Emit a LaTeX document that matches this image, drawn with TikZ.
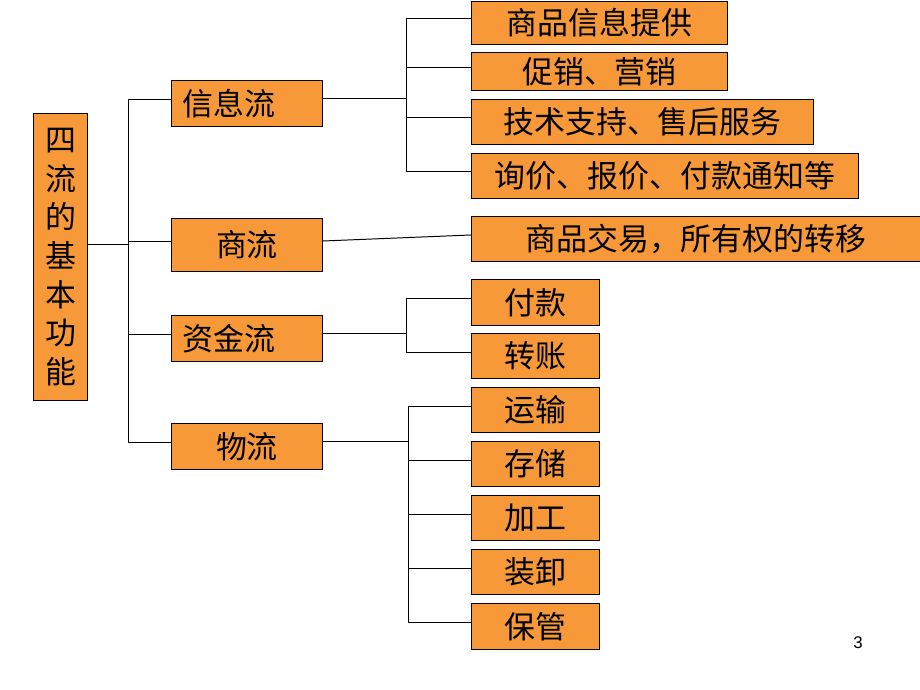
\documentclass[tikz,border=0pt]{standalone}
\usepackage{fontspec}
\setmainfont{Liberation Sans}
\newfontfamily\cjk{Noto Sans CJK SC}
\usetikzlibrary{positioning}
\definecolor{boxorange}{RGB}{247,153,56}
\newcommand{\px}{0.025cm}

\begin{document}
\begin{tikzpicture}[x=\px, y=-\px, line width=0.7pt,
    box/.style={draw, fill=boxorange, anchor=north west, inner sep=0pt, font=\cjk\fontsize{22}{26}\selectfont},
    lbox/.style={box, align=left, inner xsep=11*\px, text width=129*\px}]
    \useasboundingbox (0,0) rectangle (920,690);

    % Khối gốc (chữ dọc)
    \node[box, minimum width=54*\px, minimum height=287*\px, align=center, font=\cjk\fontsize{22}{27.5}\selectfont]
        (root) at (33,113) {四\\流\\的\\基\\本\\功\\能};

    % Bốn dòng
    \node[lbox, minimum height=46*\px] (xinxi) at (171,80) {信息流};
    \node[box, minimum width=151*\px, minimum height=53*\px] (shang) at (171,218) {商流};
    \node[lbox, minimum height=46*\px] (zijin) at (171,315) {资金流};
    \node[box, minimum width=151*\px, minimum height=46*\px] (wu) at (171,423) {物流};

    % Chức năng của 信息流
    \node[box, minimum width=256*\px, minimum height=43*\px] (xx1) at (471,1) {商品信息提供};
    \node[box, minimum width=256*\px, minimum height=38*\px] (xx2) at (471,52) {促销、营销};
    \node[box, minimum width=342*\px, minimum height=45*\px] (xx3) at (471,99) {技术支持、售后服务};
    \node[box, minimum width=387*\px, minimum height=45*\px] (xx4) at (471,153) {询价、报价、付款通知等};

    % 商流
    \node[box, minimum width=449*\px, minimum height=45*\px] (jiaoyi) at (471,216) {商品交易，所有权的转移};

    % 资金流
    \node[box, minimum width=128*\px, minimum height=46*\px] (zj1) at (471,279) {付款};
    \node[box, minimum width=128*\px, minimum height=45*\px] (zj2) at (471,333) {转账};

    % 物流
    \node[box, minimum width=128*\px, minimum height=45*\px] (wl1) at (471,387) {运输};
    \node[box, minimum width=128*\px, minimum height=45*\px] (wl2) at (471,441) {存储};
    \node[box, minimum width=128*\px, minimum height=45*\px] (wl3) at (471,495) {加工};
    \node[box, minimum width=128*\px, minimum height=45*\px] (wl4) at (471,549) {装卸};
    \node[box, minimum width=128*\px, minimum height=46*\px] (wl5) at (471,603) {保管};

    % Số trang
    \node[font=\fontsize{12}{14}\selectfont] (page) at (858,643) {3};

    % Các điểm rẽ nhánh
    \coordinate (a0) at (128,244);
    \coordinate (b1) at (406,98);
    \coordinate (b3) at (406,333);
    \coordinate (b4) at (408,441);

    % Các đường nối
    \draw (root.east |- a0) -- (a0);
    \foreach \n in {xinxi,shang,zijin,wu}
        \draw (a0) |- ([yshift=0.1cm]\n.west);
    \draw (xinxi.east |- b1) -- (b1);
    \foreach \n in {xx1,xx2,xx3,xx4}
        \draw (b1) |- ([yshift=0.1cm]\n.west);
    \draw ([yshift=0.1cm]shang.east) -- ([yshift=0.1cm]jiaoyi.west);
    \draw (zijin.east |- b3) -- (b3);
    \foreach \n in {zj1,zj2}
        \draw (b3) |- ([yshift=0.1cm]\n.west);
    \draw (wu.east |- b4) -- (b4);
    \foreach \n in {wl1,wl2,wl3,wl4,wl5}
        \draw (b4) |- ([yshift=0.1cm]\n.west);
\end{tikzpicture}
\end{document}
